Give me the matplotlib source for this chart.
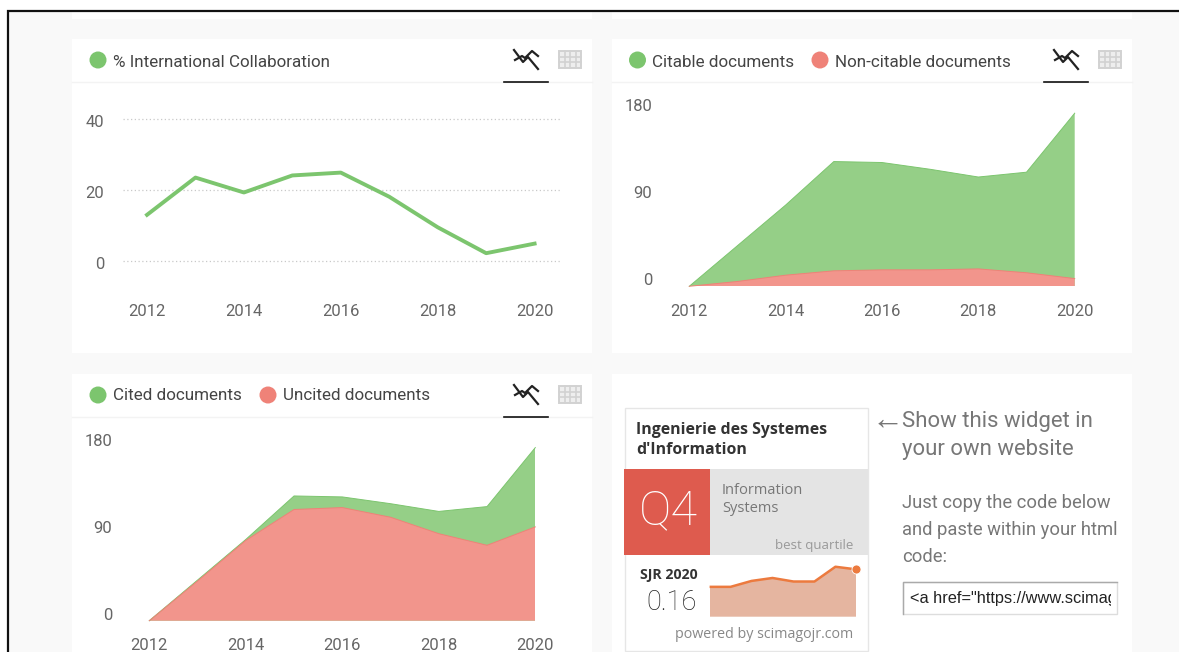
import matplotlib
matplotlib.use('Agg')
import matplotlib.pyplot as plt
from matplotlib.patches import Rectangle, Circle
from matplotlib.transforms import ScaledTranslation

plt.rcParams['font.family'] = ['Roboto', 'DejaVu Sans']

W, H = 1179, 652

years = [2012, 2013, 2014, 2015, 2016, 2017, 2018, 2019, 2020]
year_ticks = [2012, 2014, 2016, 2018, 2020]
collaboration = [13.0, 23.5, 19.3, 24.1, 24.9, 18.1, 9.5, 2.2, 4.9]
citable_total = [0, 42, 84, 129, 128, 121, 113, 118, 179]
non_citable = [0, 5, 11.5, 16, 17, 17, 18, 14, 8]
cited_total = [0, 42, 84, 129, 128, 121, 113, 118, 179]
uncited = [0, 41, 83, 115, 117, 107, 90, 78, 97]
sjr_years = [2013, 2014, 2015, 2016, 2017, 2018, 2019, 2020]
sjr_values = [0.101, 0.101, 0.121, 0.131, 0.119, 0.119, 0.169, 0.160]

GREEN = '#7cc56e'
RED = '#ef8278'
GREEN_FILL = '#95cf87'
RED_FILL = '#f2958c'
TXT = '#666666'

fig = plt.figure(figsize=(W / 100, H / 100), dpi=100, facecolor='white')

# page layer in pixel coordinates
bg = fig.add_axes([0, 0, 1, 1])
bg.set_xlim(0, W)
bg.set_ylim(H, 0)
bg.axis('off')
bg.add_patch(Rectangle((8, 11), W - 8, H - 11, fc='#f9f9f9', ec='none'))
bg.plot([8, 8, W], [H, 11, 11], color='#111111', lw=1.6, solid_joinstyle='miter')
for x0, y0, y1 in [(72, 12, 19), (612, 12, 19), (72, 39, 353), (612, 39, 353), (72, 374, H), (612, 374, H)]:
    bg.add_patch(Rectangle((x0, y0), 520, y1 - y0, fc='white', ec='none'))


def header(x0, y0, items, text_dy=23):
    bg.plot([x0, x0 + 520], [y0 + 43, y0 + 43], color='#f3f3f3', lw=1)
    for dot_x, label, col in items:
        bg.add_patch(Circle((dot_x, y0 + 21), 8.5, fc=col, ec='none'))
        bg.text(dot_x + 15, y0 + text_dy, label, fontsize=12.25, color='#444444', va='center')
    # line icon
    ix = x0 + 442
    bg.plot([ix, ix + 9, ix + 14, ix + 24], [y0 + 11, y0 + 23, y0 + 18, y0 + 30], color='#222222', lw=1.6)
    bg.plot([ix + 1, ix + 8, ix + 11, ix + 18, ix + 24], [y0 + 21, y0 + 17, y0 + 19, y0 + 12, y0 + 17], color='#222222', lw=1.6)
    bg.plot([x0 + 432, x0 + 476], [y0 + 43, y0 + 43], color='#111111', lw=1.2)
    # table icon
    tx = x0 + 487
    bg.add_patch(Rectangle((tx, y0 + 12), 22, 17, fc='#eeeeee', ec='#d2d2d2', lw=1.4))
    for k in (1, 2):
        bg.plot([tx, tx + 22], [y0 + 12 + k * 17 / 3] * 2, color='#d2d2d2', lw=1.2)
    for k in (1, 2, 3):
        bg.plot([tx + k * 5.5] * 2, [y0 + 12, y0 + 29], color='#d2d2d2', lw=1.2)


def chart_axes(left, right, top, bottom, xlim, ylim):
    ax = fig.add_axes([left / W, 1 - bottom / H, (right - left) / W, (bottom - top) / H])
    ax.set_xlim(*xlim)
    ax.set_ylim(*ylim)
    ax.patch.set_alpha(0)
    for s in ax.spines.values():
        s.set_visible(False)
    ax.set_xticks(year_ticks)
    ax.tick_params(length=0, labelsize=12, labelcolor=TXT)
    return ax


def shift_labels(ax, dy_px, x_pad, y_pad):
    ax.tick_params(axis='x', pad=x_pad)
    ax.tick_params(axis='y', pad=y_pad)
    off = ScaledTranslation(0, -dy_px / 100, fig.dpi_scale_trans)
    for lab in ax.get_yticklabels():
        lab.set_transform(lab.get_transform() + off)


def area(ax, xs, ys, fill, edge):
    ax.fill_between(xs, ys, color=fill, ec='none')
    ax.plot(xs, ys, color=edge, lw=0.7, clip_on=False)


header(72, 39, [(98, '% International Collaboration', GREEN)], 23.5)
header(612, 39, [(637.5, 'Citable documents', GREEN), (820, 'Non-citable documents', RED)], 23.5)
header(72, 374, [(98, 'Cited documents', GREEN), (268, 'Uncited documents', RED)], 22)

# line chart
per_year = (534.6 - 147) / 8
ax1 = chart_axes(122.5, 559.5, 119, 261,
                 (2012 - 24.5 / per_year, 2020 + 24.9 / per_year), (0, 40))
ax1.set_yticks([0, 20, 40])
ax1.grid(axis='y', color='#c9c9c9', lw=0.9, ls=(0, (1, 2)), clip_on=False)
ax1.set_axisbelow(True)
ax1.plot(years, collaboration, color=GREEN, lw=2.8, clip_on=False)
shift_labels(ax1, 2, 30.6, 13.3)

# area charts
scale = 0.967
ax2 = chart_axes(689.3, 1074.7, 286.3 - 180 * scale, 286.3, (2012, 2020), (0, 180))
ax2.set_yticks([0, 90, 180])
area(ax2, years, citable_total, GREEN_FILL, GREEN)
area(ax2, years, non_citable, RED_FILL, RED)
shift_labels(ax2, -7, 12.4, 26.6)

ax3 = chart_axes(149.3, 535.3, 620.7 - 180 * scale, 620.7, (2012, 2020), (0, 180))
ax3.set_yticks([0, 90, 180])
area(ax3, years, cited_total, GREEN_FILL, GREEN)
area(ax3, years, uncited, RED_FILL, RED)
shift_labels(ax3, -7, 12.4, 26.6)

# widget card
bg.add_patch(Rectangle((624.5, 408), 243.5, 243, fc='white', ec='#e6e6e6', lw=1))
bg.add_patch(Rectangle((624, 469), 86, 86, fc='#de5b4e', ec='none'))
bg.add_patch(Rectangle((710, 469), 158, 86, fc='#e4e4e4', ec='none'))
bg.text(636, 430, 'Ingenierie des Systemes', family='Open Sans', weight='bold', fontsize=11.4, color='#333333', va='center')
bg.text(636, 450, "d'Information", family='Open Sans', weight='bold', fontsize=11.4, color='#333333', va='center')
bg.text(668, 511, 'Q4', weight='light', fontsize=35, color='white', ha='center', va='center')
bg.text(722, 490, 'Information', family='Open Sans', fontsize=10.5, color='#777777', va='center')
bg.text(722, 508, 'Systems', family='Open Sans', fontsize=10.5, color='#777777', va='center')
bg.text(853, 545, 'best quartile', family='Open Sans', fontsize=9.5, color='#999999', ha='right', va='center')
bg.text(698, 575, 'SJR 2020', family='Open Sans', weight='bold', fontsize=10.2, color='#333333', ha='right', va='center')
bg.text(697, 602, '0.16', weight='light', fontsize=19.5, color='#222222', ha='right', va='center')
bg.text(853, 635, 'powered by scimagojr.com', family='Open Sans', fontsize=10.3, color='#888888', ha='right', va='center')

spark_h = 47.3 / 0.16 * 0.18
ax4 = fig.add_axes([709.6 / W, 1 - 616.7 / H, (856.4 - 709.6) / W, spark_h / H])
ax4.set_xlim(2013, 2020)
ax4.set_ylim(0, 0.18)
ax4.axis('off')
ax4.fill_between(sjr_years, sjr_values, color='#e5b5a0', ec='none')
ax4.plot(sjr_years, sjr_values, color='#ec7a3e', lw=1.8, clip_on=False, solid_capstyle='butt')
ax4.plot(sjr_years[-1:], sjr_values[-1:], 'o', color='#ec7a3e', ms=6.5, mec='white', mew=0.6, clip_on=False)

# text on the right
bg.text(871, 421, '←', family='Liberation Sans', fontsize=23, color='#777777', va='center')
bg.text(902, 422, 'Show this widget in', fontsize=15.9, color='#777777', va='center')
bg.text(902, 449, 'your own website', fontsize=15.9, color='#777777', va='center')
for line, y in [('Just copy the code below', 503), ('and paste within your html', 530), ('code:', 557)]:
    bg.text(902, y, line, fontsize=13.2, color='#777777', va='center')
bg.add_patch(Rectangle((903, 582), 214, 32, fc='white', ec='#dddddd', lw=1))
bg.plot([903, 903, 1117], [614, 582, 582], color='#aaaaaa', lw=1)
code = bg.text(910, 598, '<a href="https://www.scimagojr.com', family='Liberation Sans', fontsize=11.8, color='#222222', va='center', clip_on=True)
code.set_clip_path(Rectangle((905, 583), 206, 30, transform=bg.transData))

fig.savefig('out.png', dpi=100)
